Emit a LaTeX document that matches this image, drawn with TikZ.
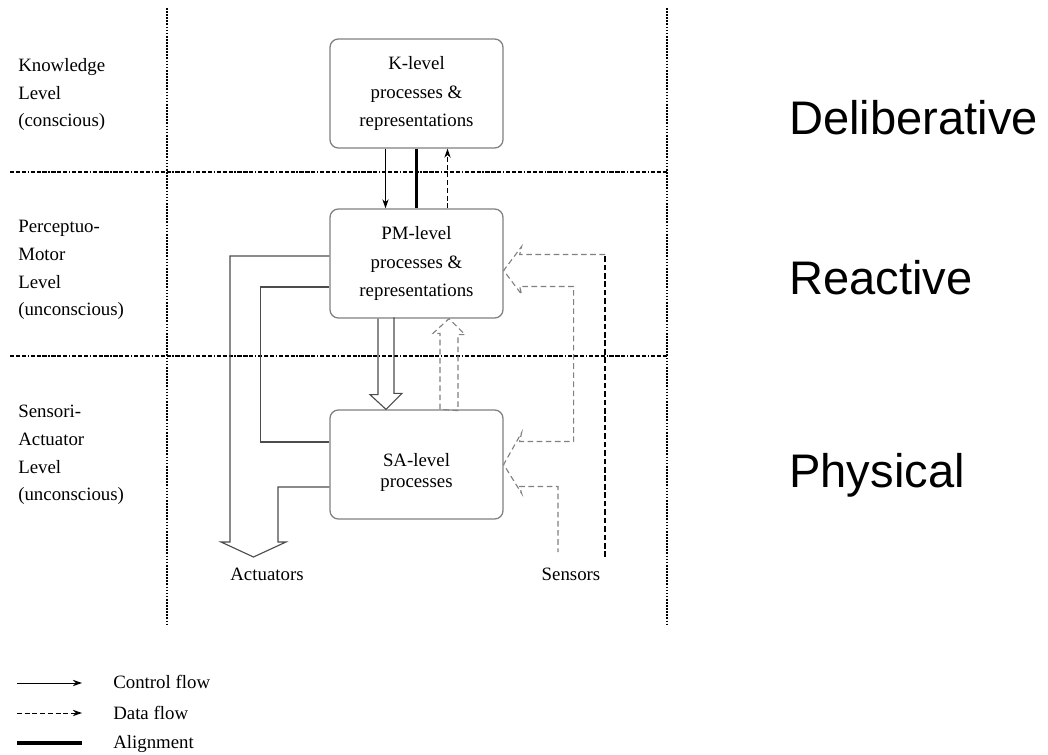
\documentclass[tikz,border=0pt]{standalone}
\usepackage{fontspec}
\setmainfont{Liberation Serif}
\newfontfamily\layerfont{Liberation Sans}
\usetikzlibrary{arrows.meta, calc}

\tikzset{
    procbox/.style={draw=gray, line width=0.9pt, rounded corners=6pt,
        minimum width=4.325cm, minimum height=2.725cm, align=center, inner sep=0pt,
        font=\fontsize{13.4}{20}\selectfont},
    lbl/.style={inner sep=0pt, font=\fontsize{13.4}{19.7}\selectfont},
    lvltext/.style={lbl, anchor=north west, align=left},
    layertext/.style={anchor=base west, inner sep=0pt,
        font=\layerfont\fontsize{33.5}{40}\selectfont},
    ctrlflow/.style={line width=0.7pt, -{Stealth[length=6.5pt, width=4.5pt]}},
    dataflow/.style={line width=0.7pt, dash pattern=on 3.5pt off 2pt,
        -{Stealth[length=6.5pt, width=4.5pt]}},
    alignline/.style={line width=2.6pt},
    ctrlline/.style={gray!60!black, line width=0.8pt},
    dataline/.style={gray, line width=0.8pt, dash pattern=on 4pt off 2.5pt},
    hsep/.style={line width=0.8pt,
        dash pattern=on 3pt off 1.2pt on 3pt off 1.2pt on 3pt off 1.2pt on 0.9pt off 1.2pt},
    vsep/.style={line width=0.8pt, dash pattern=on 1.2pt off 1pt},
}

\begin{document}
\begin{tikzpicture}[x=0.025cm, y=-0.025cm]
    \useasboundingbox (0,0) rectangle (1048,755);

    % Level separators
    \draw[vsep] (167,8) -- (167,625);
    \draw[vsep] (667,8) -- (667,625);
    \draw[hsep] (10,172) -- (667,172);
    \draw[hsep] (10,356) -- (667,356);

    % Level names
    \node[lvltext] (klvl) at (18,58) {Knowledge\\Level\\(conscious)};
    \node[lvltext] (pmlvl) at (18,220) {Perceptuo-\\Motor\\Level\\(unconscious)};
    \node[lvltext] (salvl) at (18,405) {Sensori-\\Actuator\\Level\\(unconscious)};

    % Layers
    \node[layertext] (delib) at (789,135) {Deliberative};
    \node[layertext] (react) at (789,294) {Reactive};
    \node[layertext] (phys) at (789,487) {Physical};

    % Process boxes
    \node[procbox] (kbox) at (416.5,93.5) {K-level\\processes \&\\representations};
    \node[procbox] (pmbox) at (416.5,263.5) {PM-level\\processes \&\\representations};
    \node[procbox, font=\fontsize{13.4}{15}\selectfont] (sabox) at (416.5,464.5)
        {\rule{0pt}{20pt}SA-level\\processes};

    % K <-> PM
    \draw[ctrlflow] ($(kbox.south)+(-31,0)$) -- ($(pmbox.north)+(-31,0)$);
    \draw[alignline] (kbox.south) -- (pmbox.north);
    \draw[dataflow] ($(pmbox.north)+(31,0)$) -- ($(kbox.south)+(31,0)$);

    % PM <-> SA
    \draw[ctrlline] ($(pmbox.south)+(-38.5,0)$) -- ++(0,76) -- ++(-8,0)
        -- ($(sabox.north)+(-30.5,0)$) -- ++(16,-16) -- ++(-8,0) -- ++(0,-76);
    \draw[dataline] ($(sabox.north)+(23.5,0)$) -- ++(0,-76) -- ++(-7,0)
        -- ($(pmbox.south)+(32.5,0)$) -- ++(16,16) -- ++(-7,0) -- ++(0,76) -- cycle;

    % Actuators
    \node[lbl, anchor=base] (act) at (267,580) {Actuators};
    \coordinate (acttip) at (253.5,557);
    \draw[ctrlline] ($(pmbox.west)+(0,-7.5)$) -| ($(acttip)+(-23.5,-15)$) -- ++(-9,0)
        -- (acttip) -- ++(32.5,-15) -- ++(-8,0) |- ($(sabox.west)+(0,22.5)$);
    \draw[ctrlline] ($(pmbox.west)+(0,23.5)$) -- ++(-69,0) |- ($(sabox.west)+(0,-22.5)$);

    % Sensors
    \node[lbl, anchor=base] (sens) at (571,580) {Sensors};
    \coordinate (sensA) at (558,552);
    \coordinate (sensB) at (605,557);
    \coordinate (pmtip) at ($(pmbox.east)+(0,7)$);
    \draw[black, line width=1pt, dash pattern=on 4pt off 2pt] (sensB) -- ++(0,-302.5) coordinate (senstop);
    \draw[dataline] (senstop) -- ($(pmtip)+(16,-16)$) -- ++(2,-8) -- (pmtip) -- ++(18,24) -- ++(-2,-8)
        -| ($(sabox.east)+(70,-23)$) -- ++(-54,0) -- ++(2,-9) -- (sabox.east) -- ++(18,29) -- ++(-2,-7)
        -| (sensA);

    % Legend
    \node[lbl, anchor=base west] (lctrl) at (113,688) {Control flow};
    \node[lbl, anchor=base west] (ldata) at (113,719) {Data flow};
    \node[lbl, anchor=base west] (lalign) at (113,748) {Alignment};
    \draw[ctrlflow] ($(lctrl.base west)+(-96,-5)$) -- ++(65,0);
    \draw[dataflow] ($(ldata.base west)+(-96,-6)$) -- ++(65,0);
    \draw[alignline] ($(lalign.base west)+(-96,-5)$) -- ++(65,0);
\end{tikzpicture}
\end{document}
